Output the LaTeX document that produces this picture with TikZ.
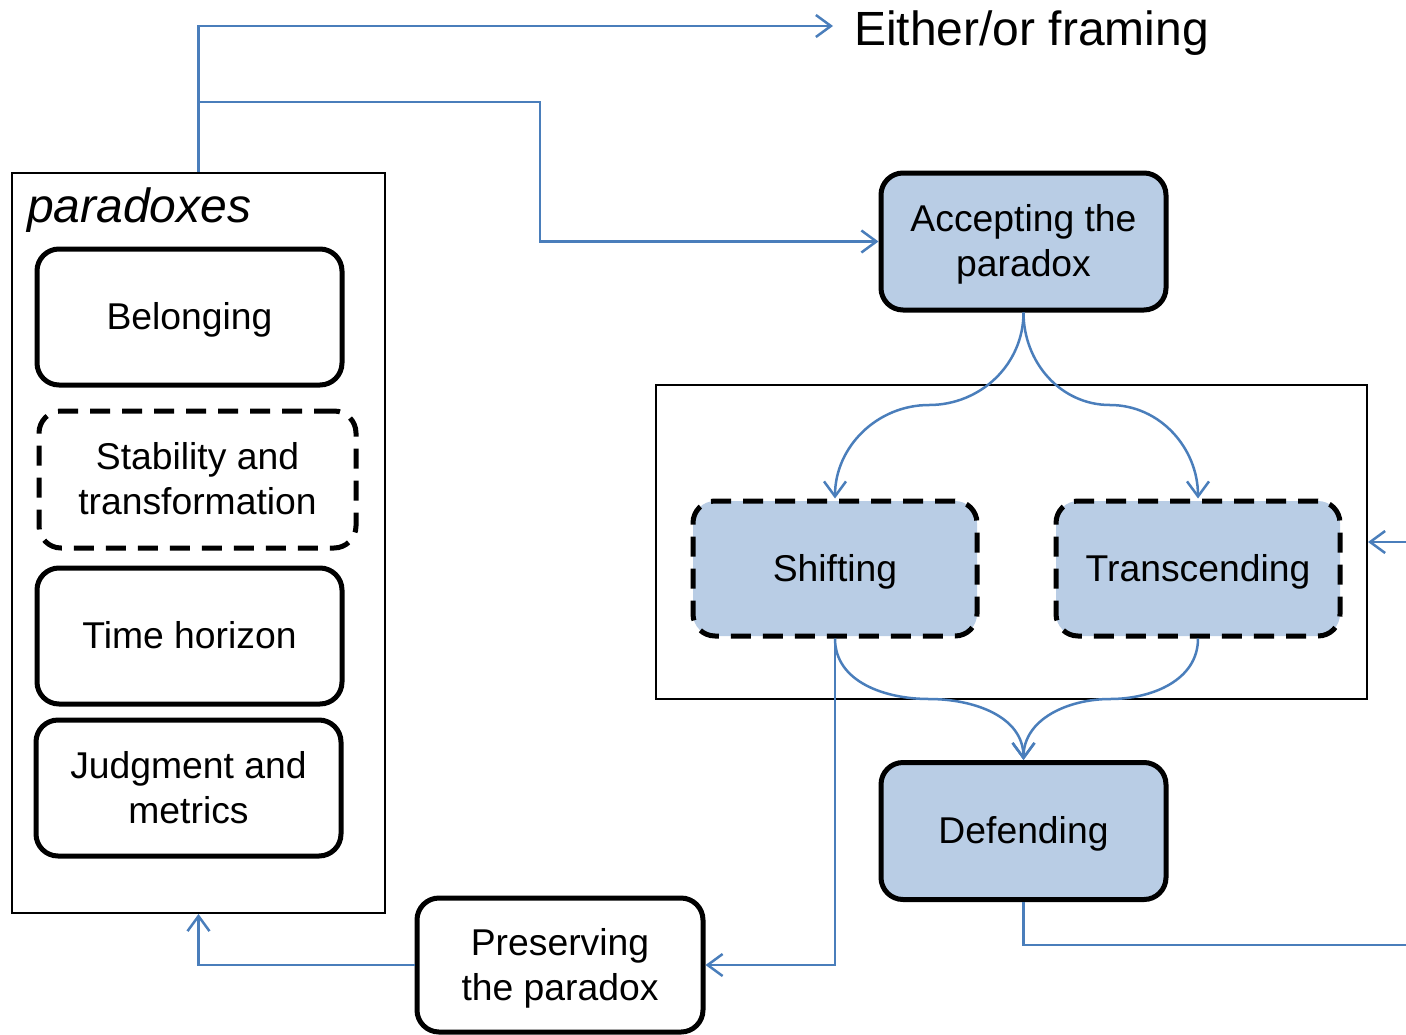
\documentclass[tikz,border=0pt]{standalone}
\usepackage{fontspec}
\setmainfont{Liberation Sans}
\usetikzlibrary{arrows.meta,calc}

\definecolor{flowblue}{HTML}{4A7EBB}
\definecolor{stagefill}{HTML}{B9CDE5}

% strut that centres the cap height of a line in its box
\newcommand{\boxstrut}{\rule[-8pt]{0pt}{41.5pt}}

\tikzset{
  box/.style={draw=black, line width=5pt, rounded corners=22pt, fill=white,
    align=center, inner sep=0pt,
    font=\fontsize{37.3pt}{45pt}\selectfont},
  solidbox/.style={box, minimum width=305pt, minimum height=136pt},
  stagebox/.style={box, fill=stagefill, minimum width=285pt, minimum height=137pt},
  dashed border/.style={dash pattern=on 20pt off 12pt},
  frame/.style={draw=black, line width=2pt, inner sep=0pt},
  conn/.style={draw=flowblue, line width=2.5pt},
  tip/.style={-{Straight Barb[length=15pt,width=22pt,line width=2.5pt]}}
}

\begin{document}
\begin{tikzpicture}[x=1pt, y=-1pt]
\useasboundingbox (0,0) rectangle (1406,1034);

% group of paradoxes on the left
\node[frame, minimum width=373pt, minimum height=740pt] (parbox) at (198.5,543) {};
\node[anchor=base west, inner sep=0pt,
      font=\fontsize{48pt}{56pt}\selectfont\itshape] (partitle) at (27,222) {paradoxes};
\node[solidbox] (bel) at (189.5,317) {\boxstrut Belonging};
\node[box, dashed border, minimum width=317pt, minimum height=137pt] (stab) at (197.5,479.5)
  {\boxstrut Stability and\\\boxstrut transformation};
\node[solidbox] (time) at (189.5,636) {\boxstrut Time horizon};
\node[solidbox] (judg) at (188.5,788) {\boxstrut Judgment and\\\boxstrut metrics};

% responses
\node[stagebox] (acc) at (1023.5,241.5) {\boxstrut Accepting the\\\boxstrut paradox};
\node[frame, minimum width=711pt, minimum height=314pt] (inner) at (1011.5,542) {};
\node[stagebox, dashed border, minimum width=284pt, minimum height=135pt] (shift) at (835,568.5) {\boxstrut Shifting};
\node[stagebox, dashed border, minimum width=284pt, minimum height=135pt] (trans) at (1198,568.5) {\boxstrut Transcending};
\node[stagebox] (def) at (1023.5,831) {\boxstrut Defending};
\node[box, minimum width=286pt, minimum height=134pt] (pres) at (560,965)
  {\boxstrut Preserving\\\boxstrut the paradox};

% outcome label
\node[anchor=base west, inner sep=0pt, font=\fontsize{48pt}{56pt}\selectfont] (either) at (854,45) {Either/or framing};

% helper points
\coordinate (eitherin) at (833,26);
\coordinate (split) at (198,102);
\coordinate (accbend) at (540,241.5);
\coordinate (lefthalf) at (929,405);
\coordinate (righthalf) at (1110,405);
\coordinate (lowleft) at (929,699);
\coordinate (lowright) at (1110,699);
\coordinate (offright) at (1410,945);
\coordinate (inright) at (1410,542);

% connectors
\draw[conn, tip] (parbox.north) |- (eitherin);
\draw[conn, tip] (split) -| (accbend) -- (acc.west);
\draw[conn, tip] (acc.south) to[out=-90, in=0] (lefthalf) to[out=180, in=90] (shift.north);
\draw[conn, tip] (acc.south) to[out=-90, in=180] (righthalf) to[out=0, in=90] (trans.north);
\draw[conn, tip] (shift.south) to[out=-90, in=180] (lowleft) to[out=0, in=90] (def.north);
\draw[conn, tip] (trans.south) to[out=-90, in=0] (lowright) to[out=180, in=90] (def.north);
\draw[conn, tip] (shift.south) |- (pres.east);
\draw[conn, tip] (pres.west) -| (parbox.south);
\draw[conn] (def.south) |- (offright);
\draw[conn, tip] (inright) -- (inner.east);
\end{tikzpicture}
\end{document}
